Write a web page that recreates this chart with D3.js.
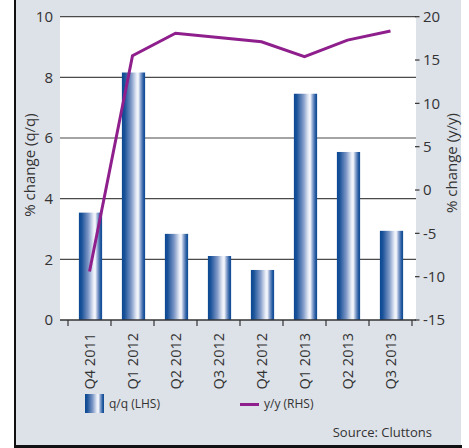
<!DOCTYPE html>
<html>
<head>
<meta charset="utf-8">
<script src="https://cdn.jsdelivr.net/npm/d3@7/dist/d3.min.js"></script>
<style>
  html, body { margin: 0; padding: 0; background: #ffffff; }
  svg { display: block; font-family: "Open Sans", "Noto Sans", sans-serif; }
</style>
</head>
<body>
<svg id="chart" width="469" height="448"></svg>
<script>
// Quarterly price change: bars on the left axis, annual change line on the right axis
const quarters = ["Q4 2011", "Q1 2012", "Q2 2012", "Q3 2012", "Q4 2012", "Q1 2013", "Q2 2013", "Q3 2013"];
const qoqValues = [3.54, 8.16, 2.84, 2.11, 1.65, 7.46, 5.54, 2.94];
const yoyValues = [-9.4, 15.5, 18.1, 17.6, 17.1, 15.4, 17.3, 18.35];
const leftTicks = [0, 2, 4, 6, 8, 10];
const rightTicks = [-15, -10, -5, 0, 5, 10, 15, 20];

const svg = d3.select("#chart");
const plot = { left: 60, right: 416, top: 16.7, bottom: 320 };
const ink = "#333333";

// Panel background and frame
svg.append("rect").attr("x", 15).attr("y", 0).attr("width", 446).attr("height", 446)
  .attr("fill", "#dde1e8");
svg.append("line").attr("x1", 15).attr("x2", 15).attr("y1", 0).attr("y2", 448)
  .attr("stroke", "#111").attr("stroke-width", 2);
svg.append("line").attr("x1", 14).attr("x2", 462).attr("y1", 446.5).attr("y2", 446.5)
  .attr("stroke", "#111").attr("stroke-width", 3);

// Plot area
svg.append("rect").attr("x", plot.left).attr("y", plot.top)
  .attr("width", plot.right - plot.left).attr("height", plot.bottom - plot.top)
  .attr("fill", "#ffffff");

const x = d3.scaleBand().domain(quarters).range([68, 412]).padding(0);
const yL = d3.scaleLinear().domain([0, 10]).range([plot.bottom, plot.top]);
const yR = d3.scaleLinear().domain([-15, 20]).range([plot.bottom, plot.top]);

// Bar gradient (metallic blue)
const defs = svg.append("defs");
const grad = defs.append("linearGradient").attr("id", "barGrad")
  .attr("x1", "0%").attr("x2", "100%").attr("y1", "0%").attr("y2", "0%");
[
  [0, "#0a4892"], [0.12, "#1a5299"], [0.4, "#7d97c6"], [0.62, "#e4eaf5"],
  [0.7, "#f7f9fd"], [0.82, "#7f9bc9"], [0.92, "#2a5ea3"], [1, "#0a4892"]
].forEach(([o, c]) => grad.append("stop").attr("offset", o).attr("stop-color", c));

// Gridlines at left-axis ticks
svg.append("g").selectAll("line")
  .data(leftTicks.filter(d => d > 0))
  .join("line")
  .attr("x1", plot.left).attr("x2", plot.right)
  .attr("y1", d => yL(d)).attr("y2", d => yL(d))
  .attr("stroke", "#4a4a4a").attr("stroke-width", 1.2);

// Bars
const barW = x.bandwidth() * 0.54;
svg.append("g").selectAll("rect")
  .data(quarters.map((q, i) => ({ q, v: qoqValues[i] })))
  .join("rect")
  .attr("x", d => x(d.q) + x.bandwidth() / 2 - barW / 2 + 1)
  .attr("width", barW)
  .attr("y", d => yL(d.v))
  .attr("height", d => yL(0) - yL(d.v))
  .attr("fill", "url(#barGrad)");

// y/y line
const line = d3.line()
  .x((d, i) => x(quarters[i]) + x.bandwidth() / 2)
  .y(d => yR(d));
svg.append("path").datum(yoyValues)
  .attr("d", line)
  .attr("fill", "none")
  .attr("stroke", "#8e1f8c")
  .attr("stroke-width", 3)
  .attr("stroke-linejoin", "miter");

// X axis line and ticks at band boundaries
svg.append("line").attr("x1", plot.left).attr("x2", plot.right)
  .attr("y1", plot.bottom).attr("y2", plot.bottom)
  .attr("stroke", ink).attr("stroke-width", 1.5);
const boundaries = quarters.map(q => x(q)).concat([x.range()[1]]);
svg.append("g").selectAll("line")
  .data(boundaries)
  .join("line")
  .attr("x1", d => d).attr("x2", d => d)
  .attr("y1", plot.bottom).attr("y2", plot.bottom + 6)
  .attr("stroke", ink).attr("stroke-width", 1.2);

// Category labels, rotated
svg.append("g").selectAll("text")
  .data(quarters)
  .join("text")
  .attr("transform", d => `translate(${x(d) + x.bandwidth() / 2 + 5},${plot.bottom + 13}) rotate(-90)`)
  .attr("text-anchor", "end")
  .attr("font-size", 14.5)
  .attr("fill", ink)
  .text(d => d);

// Left axis labels
svg.append("g").selectAll("text")
  .data(leftTicks)
  .join("text")
  .attr("x", 53).attr("y", d => yL(d))
  .attr("dy", "0.35em")
  .attr("text-anchor", "end")
  .attr("font-size", 15)
  .attr("fill", ink)
  .text(d => d);

// Right axis ticks and labels
svg.append("g").selectAll("line")
  .data(rightTicks)
  .join("line")
  .attr("x1", 415).attr("x2", 419.5)
  .attr("y1", d => yR(d)).attr("y2", d => yR(d))
  .attr("stroke", ink).attr("stroke-width", 1.2);
svg.append("g").selectAll("text")
  .data(rightTicks)
  .join("text")
  .attr("x", 423).attr("y", d => yR(d))
  .attr("dy", "0.35em")
  .attr("font-size", 15)
  .attr("fill", ink)
  .text(d => d < 0 ? "-" + Math.abs(d) : d);

// Axis titles
svg.append("text")
  .attr("transform", "translate(35,165) rotate(-90)")
  .attr("text-anchor", "middle")
  .attr("font-size", 15)
  .attr("fill", ink)
  .text("% change (q/q)");
svg.append("text")
  .attr("transform", "translate(457,163) rotate(-90)")
  .attr("text-anchor", "middle")
  .attr("font-size", 15)
  .attr("fill", ink)
  .text("% change (y/y)");

// Legend
svg.append("rect").attr("x", 85).attr("y", 394).attr("width", 19).attr("height", 19)
  .attr("fill", "url(#barGrad)");
svg.append("text").attr("x", 109).attr("y", 408)
  .attr("font-size", 12).attr("fill", ink).text("q/q (LHS)");
svg.append("line").attr("x1", 240).attr("x2", 259).attr("y1", 404.5).attr("y2", 404.5)
  .attr("stroke", "#8e1f8c").attr("stroke-width", 3);
svg.append("text").attr("x", 264).attr("y", 408)
  .attr("font-size", 12).attr("fill", ink).text("y/y (RHS)");

// Source note
svg.append("text").attr("x", 432).attr("y", 437)
  .attr("text-anchor", "end")
  .attr("font-size", 13).attr("fill", ink).text("Source: Cluttons");
</script>
</body>
</html>
